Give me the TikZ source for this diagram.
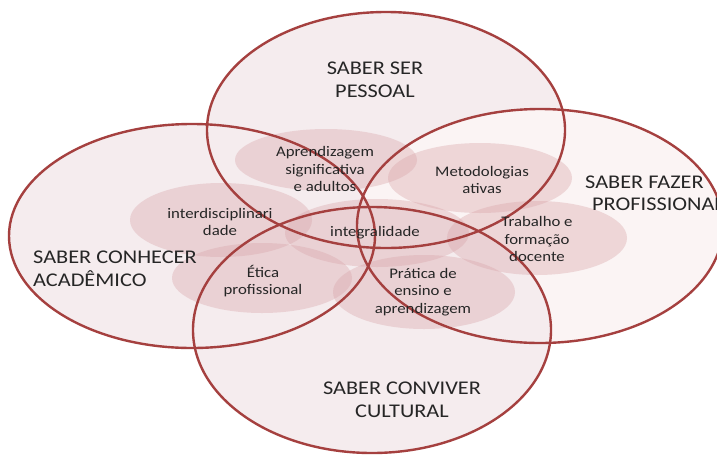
\documentclass[tikz,border=0pt]{standalone}
\usepackage{fontspec}
\setmainfont{Carlito}
\newfontfamily\labfont[FakeStretch=1.15]{Carlito}
\definecolor{rim}{HTML}{A5403F}
\definecolor{bigfill}{HTML}{F5ECEE}
\definecolor{bigfilllight}{HTML}{FBF4F4}
\definecolor{blob}{HTML}{D9A6AA}
\begin{document}
\begin{tikzpicture}[x=1pt,y=-1pt,
  ring/.style={draw=rim,line width=2.4pt},
  soft/.style={fill=blob,fill opacity=0.38},
  bigtxt/.style={font=\labfont\fontsize{19.4}{23}\selectfont,text=black!85,align=center,inner sep=0pt},
  smalltxt/.style={font=\labfont\fontsize{14.6}{17.5}\selectfont,text=black!85,align=center,inner sep=0pt}]
\useasboundingbox (0,0) rectangle (717,456);
\fill[white] (0,0) rectangle (717,456);
% pale fills of the four domains
\fill[bigfill] (192,236) ellipse [x radius=183,y radius=112];
\fill[bigfill] (386,130) ellipse [x radius=179,y radius=118];
\fill[bigfilllight] (540,226) ellipse [x radius=183,y radius=117];
\fill[bigfill] (372,330) ellipse [x radius=179,y radius=123];
% soft overlap blobs
\fill[soft] (326,160) ellipse [x radius=91,y radius=31];
\fill[soft] (480,178) ellipse [x radius=92,y radius=35];
\fill[soft] (221,220) ellipse [x radius=91,y radius=37];
\fill[soft] (377,233) ellipse [x radius=92,y radius=34];
\fill[soft] (262,278) ellipse [x radius=90,y radius=35];
\fill[soft] (424,292) ellipse [x radius=91,y radius=37];
\fill[soft] (537,238) ellipse [x radius=90,y radius=37];
% outlines
\draw[ring] (192,236) ellipse [x radius=183,y radius=112];
\draw[ring] (386,130) ellipse [x radius=179,y radius=118];
\draw[ring] (540,226) ellipse [x radius=183,y radius=117];
\draw[ring] (372,330) ellipse [x radius=179,y radius=123];
% domain labels
\node[bigtxt] (ser) at (375,80) {SABER SER\\PESSOAL};
\node[bigtxt,align=left,anchor=west] (conhecer) at (33,269) {SABER CONHECER\\ACAD\^EMICO};
\node[bigtxt,anchor=west] (fazer1) at (585,182) {SABER FAZER};
\node[bigtxt,anchor=west] (fazer2) at (592,204) {PROFISSIONAL};
\node[bigtxt] (conviver) at (402,400) {SABER CONVIVER\\CULTURAL};
% overlap labels
\node[smalltxt] (aprend) at (325,169) {Aprendizagem\\significativa\\e adultos};
\node[smalltxt] (metod) at (482,180) {Metodologias\\ativas};
\node[smalltxt] (inter) at (220,222) {interdisciplinari\\dade};
\node[smalltxt] (integ) at (375,233) {integralidade};
\node[smalltxt] (etica) at (263,281) {\'Etica\\profissional};
\node[smalltxt] (pratica) at (423,292) {Pr\'atica de\\ensino e\\aprendizagem};
\node[smalltxt] (trab) at (537,239) {Trabalho e\\forma\c{c}\~ao\\docente};
\end{tikzpicture}
\end{document}
